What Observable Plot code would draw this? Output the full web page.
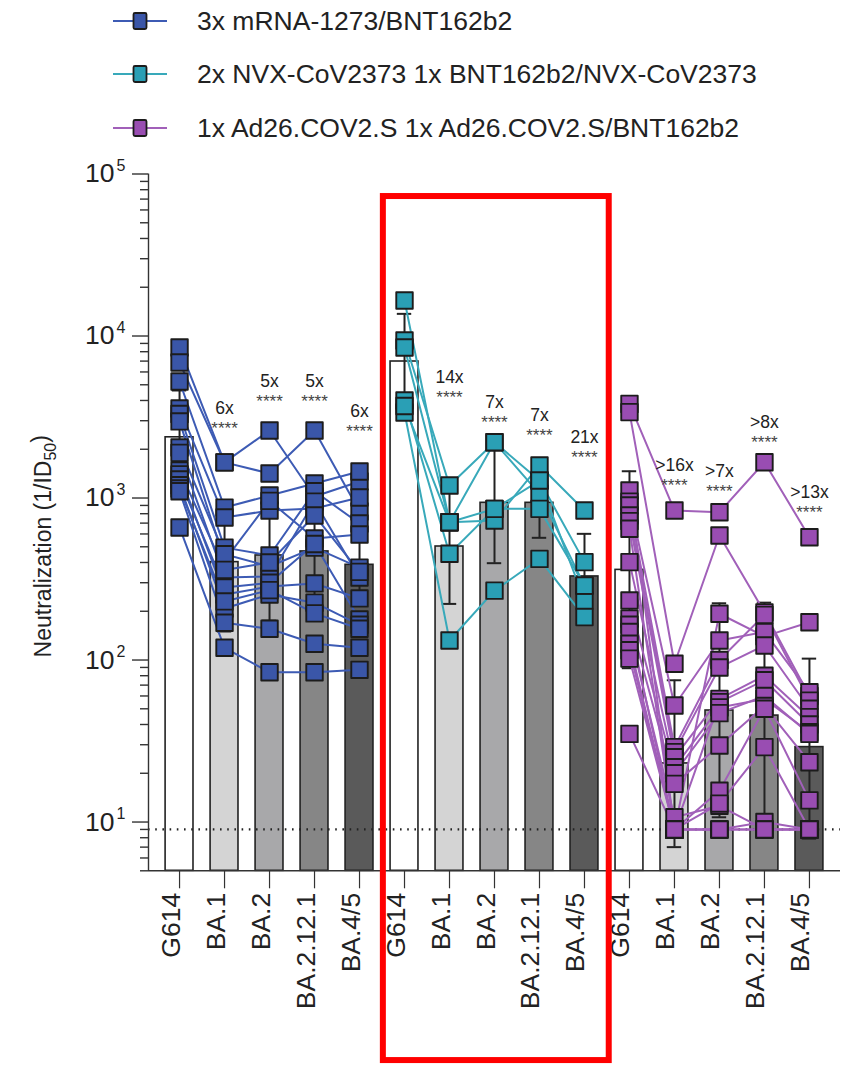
<!DOCTYPE html>
<html><head><meta charset="utf-8">
<script src="https://cdn.jsdelivr.net/npm/d3@7"></script>
<script src="https://cdn.jsdelivr.net/npm/@observablehq/plot@0.6"></script>
<style>
body{margin:0;background:#fff;font-family:"Liberation Sans",Arial,Helvetica,sans-serif;}
#wrap{position:relative;width:849px;height:1065px;overflow:hidden;background:#fff;}
#legend{position:absolute;left:0;top:0;width:849px;height:155px;}
.row{position:absolute;left:113px;height:30px;display:flex;align-items:center;font-size:26.5px;color:#222;white-space:nowrap;}
.row svg{margin-right:30px;}
#chart{position:absolute;left:0;top:155px;}
</style></head><body>
<div id="wrap"><div id="legend"></div><div id="chart"></div></div>
<script>
// ---------- data ----------
const variants = ["G614", "BA.1", "BA.2", "BA.2.12.1", "BA.4/5"];
const regimens = ["3x mRNA-1273/BNT162b2", "2x NVX-CoV2373 1x BNT162b2/NVX-CoV2373", "1x Ad26.COV2.S 1x Ad26.COV2.S/BNT162b2"];
const regimenFill = ["#3A56A8", "#2A9FB5", "#994DB2"];
const regimenLine = ["#3D5BB4", "#38A9BA", "#A160B9"];
const variantFill = ["#FFFFFF", "#D4D4D4", "#A8A8AA", "#868686", "#5A5A5A"];

// individual titers: rows = variants (G614, BA.1, BA.2, BA.2.12.1, BA.4/5), columns = subjects
const mrnaTiters = [
  [8490, 6860, 5240, 3570, 3300, 2970, 2050, 1900, 1480, 1400, 1300, 1200, 1145, 1100, 658],
  [1660, 1660, 873, 758, 494, 411, 450, 323, 360, 254, 280, 208, 230, 170, 119],
  [2610, 1417, 1036, 837, 442, 960, 378, 328, 400, 284, 300, 254, 270, 156, 84],
  [1021, 2610, 1230, 861, 1100, 562, 494, 950, 780, 297, 520, 226, 194, 126, 84],
  [1264, 826, 1458, 1007, 696, 595, 372, 323, 350, 240, 178, 165, 156, 119, 87]
];
const nvxTiters = [
  [16560, 9380, 8490, 4000, 3370, 3700],
  [709, 1195, 709, 453, 132, 709],
  [2210, 2210, 726, 857, 268, 857],
  [1282, 1062, 1588, 1282, 421, 857],
  [233, 288, 837, 402, 184, 288]
];
const ad26Titers = [
  [3810, 3390, 1112, 950, 899, 780, 720, 646, 402, 233, 180, 165, 149, 126, 115, 102, 35],
  [837, 94.8, 9, 52.4, 29, 27, 25.1, 9, 21.8, 20, 17.2, 9, 10.7, 9, 9, 9, 9],
  [817, 587, 193, 132, 100, 90, 57.6, 55, 51, 47, 29.7, 15.6, 12.6, 13, 9, 9, 9],
  [1663, 197, 140, 149, 190, 123, 80, 75, 57.6, 60, 52, 50, 9, 29, 10, 9, 9],
  [573, 60, 171, 63.3, 56.2, 50, 44.4, 40, 35.8, 35, 23.4, 13.6, 9, 9, 9, 9, 9]
];

// geometric mean titers (bars) and error bar limits
const mrnaGMT = [2370, 402, 442, 468, 387];
const nvxGMT = [6960, 502, 934, 934, 328];
const ad26GMT = [360, 23, 48.8, 45.4, 29];
const mrnaLow = [1220, 150, 175, 215, 265];
const mrnaHigh = [4610, 690, 1145, 1020, 565];
const nvxLow = [3540, 222, 396, 568, 179];
const nvxHigh = [13700, 1135, 2200, 1536, 601];
const ad26Low = [89, 7, 10.7, 9, 7.9];
const ad26High = [1463, 75, 224, 226, 102];

// fold-reduction annotations and the titer level they sit at
const mrnaFold = ["", "6x", "5x", "5x", "6x"];
const nvxFold = ["", "14x", "7x", "7x", "21x"];
const ad26Fold = ["", ">16x", ">7x", ">8x", ">13x"];
const mrnaFoldAt = [null, 3570, 5240, 5240, 3420];
const nvxFoldAt = [null, 5540, 3890, 3230, 2360];
const ad26FoldAt = [null, 1590, 1450, 2910, 1080];

const limitOfDetection = 9;
const yDomain = [5, 1e5];
const decades = [10, 100, 1000, 10000, 100000];
const yTitle = "Neutralization (1/ID";
const yTitleSub = "50";
const highlight = {group: 1, top: 72600, bottom: 0.337};

// ---------- build tidy tables ----------
const groups = [
  {titers: mrnaTiters, gmt: mrnaGMT, low: mrnaLow, high: mrnaHigh, fold: mrnaFold, foldAt: mrnaFoldAt},
  {titers: nvxTiters, gmt: nvxGMT, low: nvxLow, high: nvxHigh, fold: nvxFold, foldAt: nvxFoldAt},
  {titers: ad26Titers, gmt: ad26GMT, low: ad26Low, high: ad26High, fold: ad26Fold, foldAt: ad26FoldAt}
];
const points = [], bars = [], errs = [], folds = [];
groups.forEach((g, gi) => {
  g.titers.forEach((row, k) => row.forEach((v, s) => points.push({g: gi, s: gi + "-" + s, i: gi * 5 + k, v})));
  g.gmt.forEach((v, k) => bars.push({i: gi * 5 + k, k, v}));
  g.low.forEach((lo, k) => errs.push({i: gi * 5 + k, lo, hi: g.high[k]}));
  g.fold.forEach((t, k) => { if (t) folds.push({i: gi * 5 + k, label: t, at: g.foldAt[k]}); });
});
const minors = [];
for (let e = 0; e <= 4; e++) for (let m = 2; m <= 9; m++) { const v = m * 10 ** e; if (v >= yDomain[0] && v < yDomain[1]) minors.push(v); }
const ticksX = d3.range(15);

// ---------- legend ----------
const legend = document.getElementById("legend");
const rowCenters = [21, 74, 128];
regimens.forEach((name, r) => {
  const div = document.createElement("div");
  div.className = "row";
  div.style.top = (rowCenters[r] - 15) + "px";
  div.innerHTML = `<svg width="54" height="20"><line x1="0" y1="10" x2="54" y2="10" stroke="${regimenLine[r]}" stroke-width="2.2"/><rect x="20.5" y="2" width="13" height="16" rx="1.5" fill="${regimenFill[r]}" stroke="#1c1c1c" stroke-width="1.8"/></svg><span>${name}</span>`;
  legend.appendChild(div);
});

// ---------- chart ----------
const half = 0.31, cap = 0.16;
const chart = Plot.plot({
  width: 849, height: 910,
  marginLeft: 148, marginRight: 9, marginTop: 18.5, marginBottom: 194.7,
  style: {fontFamily: "Liberation Sans, Arial, Helvetica, sans-serif", color: "#222", background: "white"},
  x: {type: "linear", domain: [-0.69, 14.69], axis: null},
  y: {type: "log", domain: yDomain, axis: null},
  color: {type: "identity"},
  marks: [
    Plot.rectY(bars, {x1: d => d.i - half, x2: d => d.i + half, y1: () => yDomain[0], y2: "v", fill: d => variantFill[d.k], stroke: "#222", strokeWidth: 1.6}),
    Plot.ruleY([limitOfDetection], {stroke: "#222", strokeWidth: 2.3, strokeDasharray: "1.6,5.6"}),
    Plot.ruleX(errs, {x: "i", y1: "lo", y2: "hi", stroke: "#222", strokeWidth: 2}),
    Plot.ruleY(errs, {y: "hi", x1: d => d.i - cap, x2: d => d.i + cap, stroke: "#222", strokeWidth: 2}),
    Plot.ruleY(errs, {y: "lo", x1: d => d.i - cap, x2: d => d.i + cap, stroke: "#222", strokeWidth: 2}),
    ...[0, 1, 2].map(gi => Plot.line(points.filter(d => d.g === gi), {x: "i", y: "v", z: "s", stroke: regimenLine[gi], strokeWidth: 2})),
    ...[0, 1, 2].map(gi => Plot.dot(points.filter(d => d.g === gi), {x: "i", y: "v", symbol: "square", r: 9.3, fill: regimenFill[gi], stroke: "#1c1c1c", strokeWidth: 1.9, strokeLinejoin: "round"})),
    // axes
    Plot.ruleX([-0.69], {stroke: "#333", strokeWidth: 1.4}),
    Plot.ruleY([yDomain[0]], {stroke: "#333", strokeWidth: 1.4}),
    Plot.axisY({ticks: decades, tickSize: 16, tickFormat: () => "", label: null, strokeWidth: 1.4, stroke: "#333"}),
    Plot.axisY({ticks: minors, tickSize: 8, tickFormat: () => "", label: null, strokeWidth: 1.4, stroke: "#333"}),
    Plot.axisX({ticks: ticksX, tickSize: 18, tickFormat: () => "", label: null, strokeWidth: 1.2, stroke: "#333"}),
    Plot.text(decades, {y: d => d, frameAnchor: "left", text: () => "10", dx: -34, textAnchor: "end", fontSize: 26.5, fill: "#222"}),
    Plot.text(decades, {y: d => d, frameAnchor: "left", text: d => String(Math.round(Math.log10(d))), dx: -23, dy: -8, textAnchor: "end", fontSize: 16, fill: "#222"}),
    Plot.text([yTitle], {frameAnchor: "left", text: d => d, rotate: -90, dx: -105, dy: 135, textAnchor: "start", fontSize: 23, fill: "#222", className: "ytitle"}),
    Plot.text(ticksX, {x: d => d, frameAnchor: "bottom", text: d => variants[d % 5], rotate: -90, textAnchor: "end", dy: 22, fontSize: 26.5, fill: "#222"}),
    // fold annotations
    Plot.text(folds, {x: "i", y: "at", text: "label", fontSize: 17.5, fill: "#222"}),
    Plot.text(folds, {x: "i", y: "at", text: () => "****", dy: 20, fontSize: 17, fill: "#444"}),
    // highlight box
    Plot.rect([highlight], {x1: d => d.group * 5 - 0.47, x2: d => d.group * 5 + 4.55, y1: d => d.bottom, y2: d => d.top, fill: "none", stroke: "#FF0000", strokeWidth: 6})
  ]
});
// y title subscript
d3.select(chart).selectAll(".ytitle text").each(function () {
  d3.select(this).append("tspan").attr("font-size", 16).attr("dy", "0.35em").text(yTitleSub);
  d3.select(this).append("tspan").attr("dy", "-0.35em").text(")");
});
document.getElementById("chart").appendChild(chart);
</script></body></html>
